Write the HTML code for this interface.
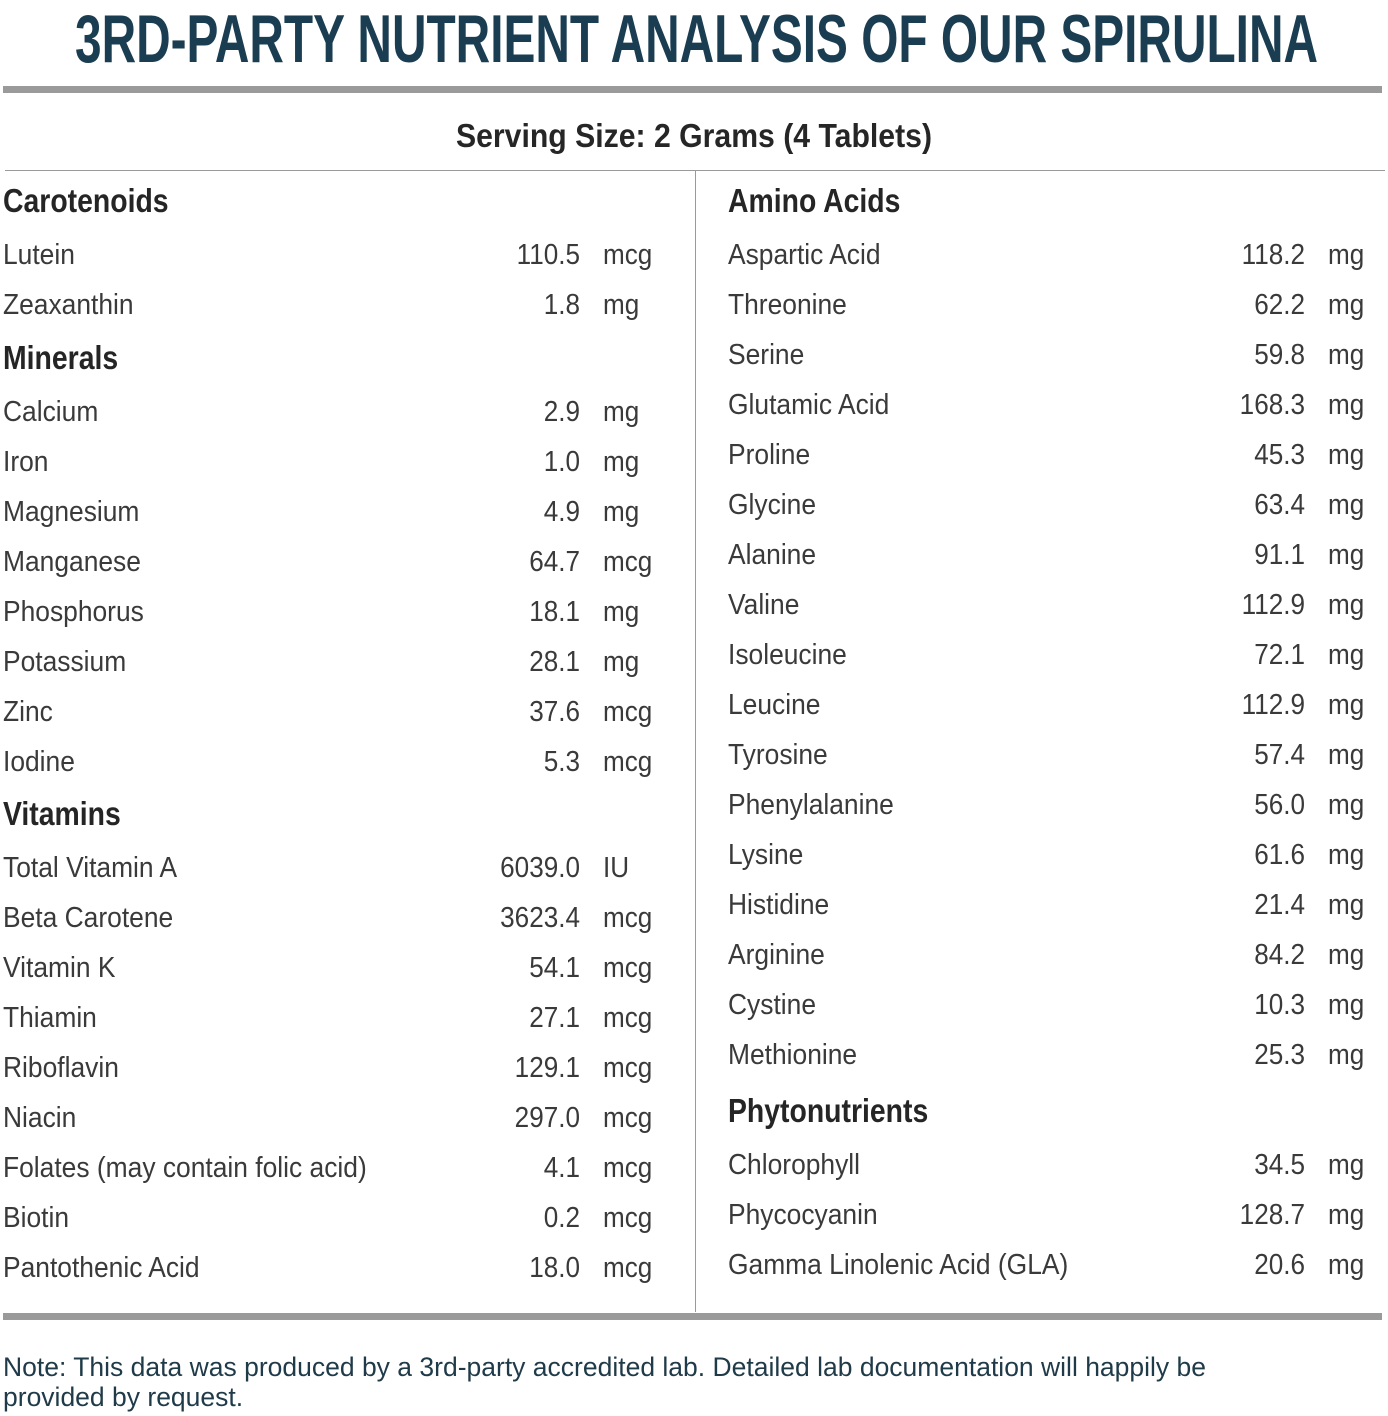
<!DOCTYPE html>
<html><head><meta charset="utf-8"><style>
body{margin:0;width:1388px;height:1416px;background:#fff;position:relative;overflow:hidden;font-family:"Liberation Sans",sans-serif}
.bar{position:absolute;background:#9a9a9a}
.c{position:absolute;top:0;height:1416px}
.r{position:absolute;left:0;height:40px;line-height:40px;font-size:29px;color:#3a3a3a;white-space:nowrap}
.h{font-weight:bold;font-size:33px;color:#252525}
.n{position:absolute;left:0;top:0;transform:scaleX(.91);transform-origin:left}
.h .n{transform:scaleX(.86)}
.v{position:absolute;right:0;top:0;transform:scaleX(.9);transform-origin:right}
.u{position:absolute;top:0;transform:scaleX(.9);transform-origin:left}
.L .v{right:auto;left:0;width:577px;text-align:right}
.L .u{left:600px}
.R .v{right:auto;left:0;width:577px;text-align:right}
.R .u{left:600px}
.note{position:absolute;left:3px;top:1352px;font-size:26.5px;line-height:30px;color:#1f3a48;width:1380px;white-space:nowrap}
</style></head><body>
<svg style="position:absolute;left:0;top:0" width="1388" height="170">
<text x="75" y="62" textLength="1243" lengthAdjust="spacingAndGlyphs" font-family="Liberation Sans" font-weight="bold" font-size="68" fill="#1a3d52">3RD-PARTY NUTRIENT ANALYSIS OF OUR SPIRULINA</text>
<text x="456" y="147" textLength="476" lengthAdjust="spacingAndGlyphs" font-family="Liberation Sans" font-weight="bold" font-size="33" fill="#262626">Serving Size: 2 Grams (4 Tablets)</text>
</svg>
<div class="bar" style="left:3px;top:86px;width:1379px;height:7px"></div>
<div class="bar" style="left:5px;top:170px;width:1380px;height:1px"></div>
<div class="bar" style="left:695px;top:171px;width:1px;height:1141px"></div>
<div class="bar" style="left:3px;top:1313px;width:1379px;height:7px"></div>

<div class="c L" style="left:3px;width:690px">
<div class="r h" style="top:181px"><span class="n">Carotenoids</span></div>
<div class="r" style="top:235px"><span class="n">Lutein</span><span class="v">110.5</span><span class="u">mcg</span></div>
<div class="r" style="top:285px"><span class="n">Zeaxanthin</span><span class="v">1.8</span><span class="u">mg</span></div>
<div class="r h" style="top:338px"><span class="n">Minerals</span></div>
<div class="r" style="top:392px"><span class="n">Calcium</span><span class="v">2.9</span><span class="u">mg</span></div>
<div class="r" style="top:442px"><span class="n">Iron</span><span class="v">1.0</span><span class="u">mg</span></div>
<div class="r" style="top:492px"><span class="n">Magnesium</span><span class="v">4.9</span><span class="u">mg</span></div>
<div class="r" style="top:542px"><span class="n">Manganese</span><span class="v">64.7</span><span class="u">mcg</span></div>
<div class="r" style="top:592px"><span class="n">Phosphorus</span><span class="v">18.1</span><span class="u">mg</span></div>
<div class="r" style="top:642px"><span class="n">Potassium</span><span class="v">28.1</span><span class="u">mg</span></div>
<div class="r" style="top:692px"><span class="n">Zinc</span><span class="v">37.6</span><span class="u">mcg</span></div>
<div class="r" style="top:742px"><span class="n">Iodine</span><span class="v">5.3</span><span class="u">mcg</span></div>
<div class="r h" style="top:794px"><span class="n">Vitamins</span></div>
<div class="r" style="top:848px"><span class="n">Total Vitamin A</span><span class="v">6039.0</span><span class="u">IU</span></div>
<div class="r" style="top:898px"><span class="n">Beta Carotene</span><span class="v">3623.4</span><span class="u">mcg</span></div>
<div class="r" style="top:948px"><span class="n">Vitamin K</span><span class="v">54.1</span><span class="u">mcg</span></div>
<div class="r" style="top:998px"><span class="n">Thiamin</span><span class="v">27.1</span><span class="u">mcg</span></div>
<div class="r" style="top:1048px"><span class="n">Riboflavin</span><span class="v">129.1</span><span class="u">mcg</span></div>
<div class="r" style="top:1098px"><span class="n">Niacin</span><span class="v">297.0</span><span class="u">mcg</span></div>
<div class="r" style="top:1148px"><span class="n">Folates (may contain folic acid)</span><span class="v">4.1</span><span class="u">mcg</span></div>
<div class="r" style="top:1198px"><span class="n">Biotin</span><span class="v">0.2</span><span class="u">mcg</span></div>
<div class="r" style="top:1248px"><span class="n">Pantothenic Acid</span><span class="v">18.0</span><span class="u">mcg</span></div>
</div>

<div class="c R" style="left:728px;width:660px">
<div class="r h" style="top:181px"><span class="n">Amino Acids</span></div>
<div class="r" style="top:235px"><span class="n">Aspartic Acid</span><span class="v">118.2</span><span class="u">mg</span></div>
<div class="r" style="top:285px"><span class="n">Threonine</span><span class="v">62.2</span><span class="u">mg</span></div>
<div class="r" style="top:335px"><span class="n">Serine</span><span class="v">59.8</span><span class="u">mg</span></div>
<div class="r" style="top:385px"><span class="n">Glutamic Acid</span><span class="v">168.3</span><span class="u">mg</span></div>
<div class="r" style="top:435px"><span class="n">Proline</span><span class="v">45.3</span><span class="u">mg</span></div>
<div class="r" style="top:485px"><span class="n">Glycine</span><span class="v">63.4</span><span class="u">mg</span></div>
<div class="r" style="top:535px"><span class="n">Alanine</span><span class="v">91.1</span><span class="u">mg</span></div>
<div class="r" style="top:585px"><span class="n">Valine</span><span class="v">112.9</span><span class="u">mg</span></div>
<div class="r" style="top:635px"><span class="n">Isoleucine</span><span class="v">72.1</span><span class="u">mg</span></div>
<div class="r" style="top:685px"><span class="n">Leucine</span><span class="v">112.9</span><span class="u">mg</span></div>
<div class="r" style="top:735px"><span class="n">Tyrosine</span><span class="v">57.4</span><span class="u">mg</span></div>
<div class="r" style="top:785px"><span class="n">Phenylalanine</span><span class="v">56.0</span><span class="u">mg</span></div>
<div class="r" style="top:835px"><span class="n">Lysine</span><span class="v">61.6</span><span class="u">mg</span></div>
<div class="r" style="top:885px"><span class="n">Histidine</span><span class="v">21.4</span><span class="u">mg</span></div>
<div class="r" style="top:935px"><span class="n">Arginine</span><span class="v">84.2</span><span class="u">mg</span></div>
<div class="r" style="top:985px"><span class="n">Cystine</span><span class="v">10.3</span><span class="u">mg</span></div>
<div class="r" style="top:1035px"><span class="n">Methionine</span><span class="v">25.3</span><span class="u">mg</span></div>
<div class="r h" style="top:1091px"><span class="n">Phytonutrients</span></div>
<div class="r" style="top:1145px"><span class="n">Chlorophyll</span><span class="v">34.5</span><span class="u">mg</span></div>
<div class="r" style="top:1195px"><span class="n">Phycocyanin</span><span class="v">128.7</span><span class="u">mg</span></div>
<div class="r" style="top:1245px"><span class="n">Gamma Linolenic Acid (GLA)</span><span class="v">20.6</span><span class="u">mg</span></div>
</div>

<div class="note">Note: This data was produced by a 3rd-party accredited lab. Detailed lab documentation will happily be<br>provided by request.</div>
</body></html>
